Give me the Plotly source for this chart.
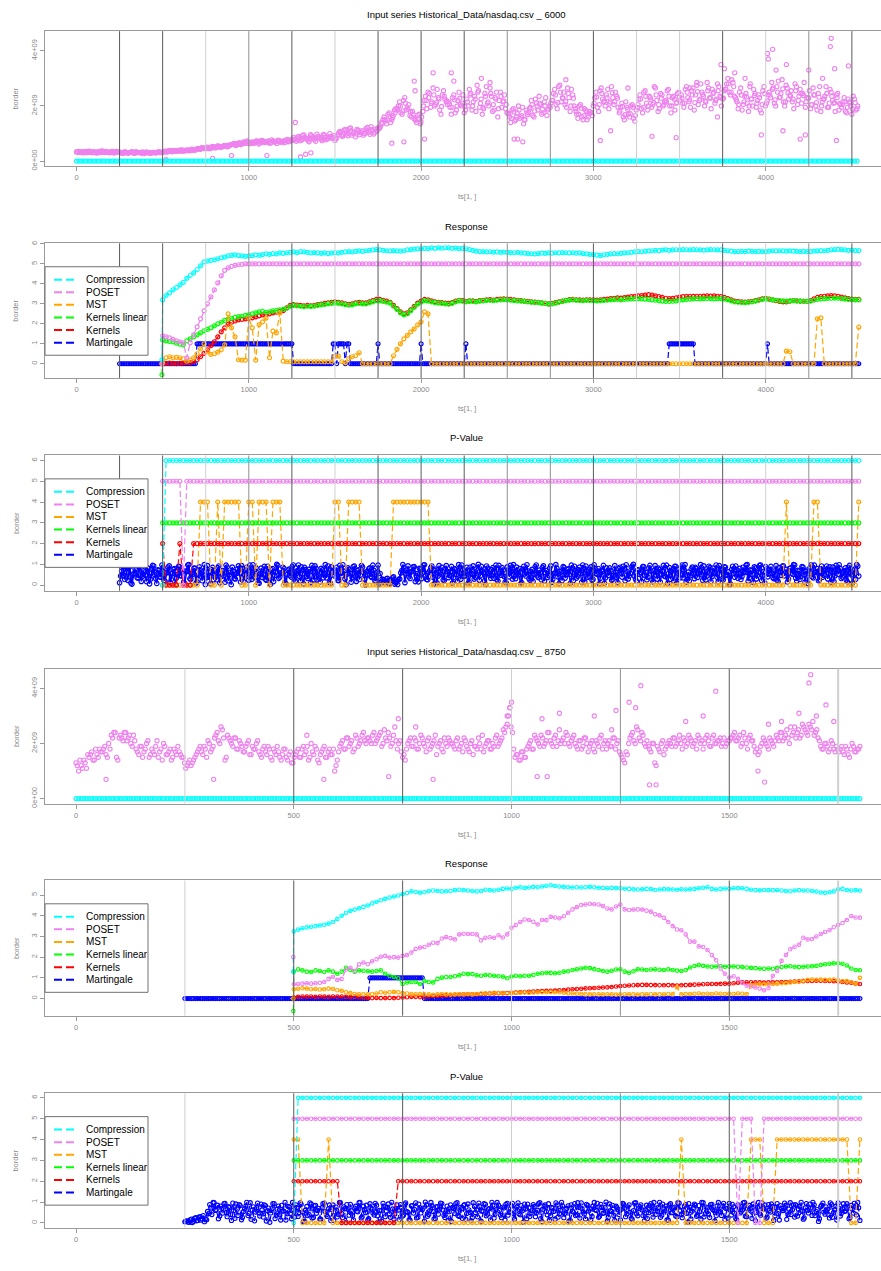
import plotly.graph_objects as go

# ======================= DATA =======================
def expand(parts):
    out = []
    for p in parts:
        if isinstance(p, tuple):
            out += [p[0]] * p[1]
        else:
            out += list(p)
    return out

# ---- Panel 1: input series nasdaq _ 6000 (volume in units of 1e7)
VOL1_UNIT = 1e7
VOL1_STEP = 15           # samples at t = 0, 15, 30, ...
vol_6000 = [
    33,35,31,34,30,36,32,33,29,34,37,31,33,30,35,32,34,
    31,28,33,30,32,29,34,31,30,27,33,31,29,32,30,34,31,
    35,33,37,34,38,36,40,37,39,41,38,42,40,
    46,43,48,45,50,47,52,49,54,51,56,53,58,
    60,64,58,66,62,68,73,
    63,70,67,72,66,74,69,71,65,73,70,76,68,72,75,70,78,
    85,72,90,76,95,80,70,92,78,98,84,74,94,80,100,86,75,
    95,108,90,115,92,120,100,88,112,103,94,118,104,125,98,110,
    118,140,160,135,175,150,185,
    185,215,170,230,195,165,180,
    150,165,135,
    180,235,250,195,265,205,230,170,255,215,
    215,170,240,185,250,200,175,
    225,260,185,235,275,195,170,245,210,265,180,230,160,250,215,190,
    175,140,190,150,200,160,135,185,
    175,220,160,210,235,170,215,165,200,
    220,260,190,275,230,205,265,180,240,
    190,155,205,150,185,160,175,
    200,250,180,265,215,240,190,270,205,235,
    175,210,150,195,160,205,145,
    195,240,175,255,185,230,205,265,180,245,200,220,260,175,235,210,250,
    240,195,270,215,255,185,275,220,250,200,285,230,260,210,280,235,225,
    260,300,240,285,
    230,190,265,205,245,180,225,260,195,240,175,270,210,
    250,285,210,270,230,295,200,265,240,215,280,205,260,245,195,
    230,190,265,200,245,180,225,270,195,250,210,240,185,
    195,230,175,215,170,225,190,
]
VOL1_MID_T0 = 8          # second set of samples at t = 8, 23, 38, ...
vol_6000_mid = [
    32,34,30,35,33,31,34,30,33,36,32,34,31,33,29,35,33,
    30,33,29,31,34,28,32,30,33,29,31,28,32,30,33,31,32,
    34,38,35,39,36,38,41,36,40,38,43,39,44,
    44,49,46,51,45,53,48,55,50,53,57,52,59,
    62,57,65,60,70,64,68,
    68,64,73,62,75,67,70,66,77,69,64,74,71,67,79,72,76,
    78,88,74,93,82,76,96,84,72,90,80,97,77,88,83,92,82,
    104,92,112,98,118,94,106,115,96,110,100,122,97,108,116,120,
    125,150,145,170,140,165,190,
    200,175,220,185,205,160,155,
    140,170,160,
    220,190,245,215,200,260,185,240,225,205,
    195,230,175,220,205,240,185,
    200,245,215,180,255,225,190,270,200,235,185,250,220,195,240,175,
    160,185,145,175,155,195,150,168,
    195,165,225,185,205,175,230,190,210,
    245,205,270,215,250,195,230,260,200,
    170,200,160,190,150,180,165,
    230,195,255,225,200,260,215,230,250,195,
    195,160,215,170,200,155,185,
    225,190,250,210,235,195,270,220,190,240,215,255,200,230,185,245,220,
    210,260,230,195,265,240,205,280,235,215,265,190,250,225,270,200,255,
    280,250,295,235,
    215,250,185,235,210,270,200,245,220,185,255,200,240,
    230,265,200,290,245,215,275,225,255,190,270,235,210,285,230,
    255,205,240,185,270,215,235,195,260,220,180,245,205,
    215,180,225,200,235,185,
]
VOL1_C_T0 = 4            # third set of samples at t = 4, 19, 34, ...
vol_6000_c = [
    34,32,33,31,35,33,30,32,34,31,33,35,32,34,31,33,32,
    30,32,31,29,33,30,31,32,29,31,30,32,31,30,32,31,33,
    36,34,38,35,37,39,36,40,38,40,39,41,42,
    45,47,46,49,48,50,51,50,53,52,55,54,57,
    61,63,60,65,64,66,70,
    66,68,70,69,71,72,70,73,68,72,71,74,70,73,74,72,76,
    80,78,84,81,86,82,79,86,83,88,85,80,87,84,89,85,82,
    98,103,96,106,100,110,102,98,107,104,100,112,106,115,103,108,
    120,135,150,148,162,158,175,
    190,200,182,210,188,178,170,
    148,155,142,
    200,220,230,210,240,212,225,198,235,218,
    208,195,222,200,228,210,198,
    215,240,200,225,250,210,195,235,215,245,205,225,190,235,218,205,
    170,155,178,160,185,165,150,175,
    190,205,182,200,210,188,200,185,195,
    220,240,212,250,228,215,245,200,228,
    180,170,192,165,180,172,176,
    210,232,205,245,218,230,210,248,215,228,
    182,198,168,188,172,195,165,
    205,225,195,235,200,222,212,240,205,228,205,215,235,200,225,212,232,
    228,210,250,222,240,212,252,225,242,218,255,228,245,220,255,230,228,
    262,280,250,270,
    222,205,240,215,232,200,225,238,210,230,205,245,218,
    240,260,222,250,232,262,215,248,235,225,255,220,245,238,215,
    228,205,240,212,232,200,225,245,210,235,212,230,208,
    205,215,195,210,188,212,200,
]
vol_6000_out_t = [1270,1960,1965,2070,2175,2190,2350,2400,2540,2560,2590,2840,3040,3200,3340,3480,
                  3560,3600,3740,3760,3820,3880,3910,4010,4015,4040,4060,4120,4200,4230,4380,4375,
                  4400,4250,4330,4410,4480,900,1105,1330,1360,1900,2020,1830,1300,520,790,3100,3720,3975,4100]
vol_6000_out_v = [140,290,255,320,320,290,300,285,80,80,70,295,75,265,90,85,
                  265,285,350,335,320,300,280,390,370,405,330,350,80,95,445,415,
                  335,330,300,75,345,20,20,25,30,70,80,65,15,5,10,110,160,95,110]
resp_6000_in = expand([(0.0, len(vol_6000))])

# ---- Panel 2: Response (grid 500 + 20*i, preceded by the value at t=496)
R1_T0, R1_START, R1_STEP = 496, 500, 20
comp_resp1 = [0.2,
    3.2,3.42,3.55,3.7,3.82,3.95,4.08,4.28,4.42,4.55,
    4.72,4.9,5.1,5.14,5.18,5.2,5.26,5.3,5.34,5.4,
    5.43,5.45,5.42,5.4,5.38,5.4,5.42,5.45,5.43,5.47,
    5.5,5.48,5.52,5.5,5.55,5.53,5.56,5.58,5.6,5.57,
    5.62,5.6,5.58,5.55,5.57,5.55,5.53,5.55,5.52,5.54,
    5.56,5.55,5.58,5.6,5.62,5.6,5.63,5.65,5.63,5.66,
    5.68,5.7,5.72,5.7,5.68,5.66,5.65,5.67,5.65,5.64,
    5.66,5.7,5.72,5.74,5.75,5.76,5.78,5.77,5.8,5.78,
    5.8,5.79,5.81,5.8,5.78,5.79,5.77,5.78,5.76,5.72,
    5.68,5.64,5.62,5.62,5.6,5.61,5.59,5.6,5.58,5.59,
    5.58,5.57,5.56,5.58,5.55,5.54,5.52,5.51,5.5,5.52,
    5.54,5.53,5.55,5.54,5.56,5.55,5.57,5.56,5.55,5.56,
    5.54,5.55,5.52,5.5,5.48,5.47,5.44,5.42,5.46,5.48,
    5.5,5.52,5.51,5.53,5.55,5.56,5.58,5.6,5.62,5.61,
    5.63,5.65,5.66,5.68,5.67,5.69,5.7,5.68,5.7,5.71,
    5.7,5.72,5.71,5.7,5.72,5.71,5.7,5.69,5.7,5.72,
    5.71,5.7,5.7,5.68,5.66,5.64,5.62,5.62,5.63,5.62,
    5.64,5.63,5.62,5.63,5.62,5.62,5.64,5.66,5.65,5.66,
    5.65,5.64,5.65,5.64,5.63,5.62,5.63,5.62,5.62,5.64,
    5.65,5.67,5.66,5.68,5.7,5.72,5.73,5.72,5.7,5.68,
    5.69,5.67,5.67]
poset_resp1 = expand([[0.0,
    1.4,1.35,1.3,1.22,1.15,1.1,1.05,0.3,1.05,1.45,
    1.85,2.25,2.65,3.0,3.35,3.7,4.05,4.4,4.68,4.8,
    4.88,4.93,4.96,4.98], (5.0, 179)])
mst_resp1 = expand([[0.0],
    [0.05,0.3,0.35,0.3,0.32,0.3,0.25,0.13,0.18,0.3,
     0.5,0.75,1.0,0.6,0.47,0.5,0.58,0.7,0.95,2.5,
     1.8,1.35,0.2,0.18,0.18,2.3,1.8,0.18,1.96,2.1,
     2.28,0.3,1.63,1.55,2.54,0.13,0.1],
    (0.1, 13),
    [0.38,0.38,0.1,0.05,0.25,0.35,0.4,0.55],
    (0.0, 9),
    [0.4,0.72,1.0,1.25,1.42,1.6,1.75,1.95,2.1,2.6,2.5],
    (0.0, 103), [0.63,0.6], (0.0, 7), [2.25,2.3], (0.0, 10), [1.83]])
klin_resp1 = [-0.55,
    1.2,1.15,1.12,1.1,1.03,0.98,0.95,1.15,1.25,1.35,
    1.45,1.55,1.65,1.72,1.8,1.9,2.0,2.08,2.17,2.24,
    2.28,2.32,2.36,2.38,2.42,2.45,2.5,2.55,2.6,2.63,
    2.58,2.6,2.65,2.68,2.7,2.72,2.78,2.88,2.92,2.9,
    2.88,2.86,2.88,2.87,2.89,2.92,2.95,2.97,3.0,3.02,
    3.04,3.02,3.0,2.96,2.93,2.95,3.0,3.02,3.0,3.0,
    3.05,3.1,3.16,3.15,3.12,3.08,3.04,2.88,2.72,2.55,
    2.45,2.5,2.65,2.82,2.98,3.08,3.16,3.14,3.1,3.06,
    3.04,3.02,3.0,2.98,3.02,3.1,3.15,3.13,3.1,3.12,
    3.12,3.1,3.14,3.15,3.17,3.18,3.16,3.18,3.2,3.21,
    3.2,3.18,3.16,3.15,3.14,3.12,3.1,3.08,3.07,3.06,
    3.04,3.02,2.99,3.0,3.04,3.08,3.12,3.16,3.19,3.2,
    3.18,3.17,3.16,3.18,3.17,3.16,3.15,3.16,3.17,3.18,
    3.2,3.21,3.22,3.2,3.22,3.24,3.25,3.26,3.26,3.25,
    3.24,3.22,3.2,3.18,3.16,3.14,3.12,3.12,3.13,3.15,
    3.18,3.2,3.22,3.24,3.25,3.26,3.25,3.26,3.27,3.26,
    3.25,3.26,3.26,3.24,3.2,3.15,3.1,3.08,3.07,3.06,
    3.08,3.1,3.14,3.18,3.22,3.24,3.22,3.2,3.18,3.16,
    3.15,3.14,3.15,3.16,3.15,3.14,3.13,3.12,3.14,3.18,
    3.22,3.25,3.26,3.27,3.28,3.29,3.28,3.26,3.24,3.22,
    3.21,3.2,3.2]
kern_resp1 = [0.0,
    0.0,0.02,0.03,0.02,0.0,0.02,0.04,0.05,0.06,0.1,
    0.2,0.35,0.52,0.7,0.9,1.1,1.35,1.6,1.8,1.98,
    2.08,2.14,2.2,2.22,2.25,2.27,2.3,2.35,2.4,2.45,
    2.46,2.5,2.55,2.58,2.62,2.66,2.8,2.92,2.96,2.94,
    2.92,2.9,2.92,2.9,2.93,2.96,2.99,3.02,3.05,3.08,
    3.1,3.08,3.05,3.0,2.98,3.0,3.05,3.07,3.05,3.05,
    3.1,3.16,3.22,3.22,3.18,3.14,3.08,2.92,2.76,2.6,
    2.5,2.55,2.7,2.88,3.04,3.14,3.22,3.2,3.15,3.1,
    3.08,3.06,3.04,3.02,3.06,3.14,3.18,3.16,3.13,3.15,
    3.15,3.12,3.16,3.18,3.2,3.21,3.19,3.22,3.24,3.25,
    3.24,3.22,3.2,3.18,3.16,3.14,3.12,3.1,3.09,3.08,
    3.05,3.02,3.0,3.02,3.06,3.1,3.14,3.18,3.21,3.22,
    3.2,3.2,3.19,3.2,3.2,3.2,3.19,3.2,3.22,3.24,
    3.26,3.28,3.3,3.29,3.31,3.34,3.36,3.38,3.4,3.42,
    3.44,3.46,3.44,3.4,3.36,3.32,3.28,3.26,3.27,3.3,
    3.34,3.36,3.38,3.38,3.37,3.38,3.38,3.39,3.4,3.39,
    3.4,3.38,3.36,3.32,3.26,3.2,3.14,3.11,3.1,3.09,
    3.1,3.12,3.16,3.2,3.25,3.28,3.24,3.2,3.16,3.12,
    3.1,3.1,3.14,3.16,3.15,3.14,3.13,3.12,3.16,3.25,
    3.32,3.36,3.38,3.4,3.41,3.4,3.38,3.34,3.3,3.26,
    3.24,3.22,3.22]
M1_START, M1_STEP = 250, 10
mart_resp1 = expand([(0,45),(1,56),(0,23),(1,2),(0,1),(1,4),(0,1),(1,2),(0,16),(1,1),(0,24),
                     (1,1),(0,25),(1,1),(0,117),(1,15),(0,42),(1,1),(0,53)])

# ---- Panel 3: P-Value (grid 500 + 20*i)
P1_START, P1_STEP = 500, 20
comp_pv1 = expand([(0,1),(6,202)])
poset_pv1 = expand([(5,6),(0,1),(5,196)])
mst_pv1 = expand([(0,11),(4,3),(0,2),(4,1),(0,1),(4,5),(0,2),(4,2),(0,1),(4,3),(0,1),(4,3),(0,15),
                  (4,2),(0,2),(4,4),(0,9),(4,11),(0,103),(4,1),(0,7),(4,2),(0,11),(4,1)])
klin_pv1 = expand([(3,203)])
kern_pv1 = expand([(2,1),(0,4),(2,1),(0,3),(2,194)])
MP1_START, MP1_STEP = 250, 12
mart_pv1_pct = [
    12,67,45,88,23,91,5,56,73,34,98,41,62,17,80,29,95,50,8,71,
    38,84,19,60,93,27,76,3,52,89,44,15,68,97,31,58,82,10,47,74,
    21,99,36,63,7,85,54,26,92,40,70,14,87,49,2,65,30,78,57,94,
    18,72,43,96,28,61,83,11,55,37,90,24,66,4,79,46,100,33,59,86,
    13,51,77,39,97,20,69,42,88,6,75,32,64,95,25,81,48,16,73,58,
    35,92,9,67,44,85,22,60,98,30,53,76,14,89,41,70,27,94,62,1,
    50,83,37,71,19,96,56,29,12,30,8,22,35,5,18,28,59,99,12,74,
    40,63,88,17,55,81,31,97,48,26,69,92,5,77,43,60,85,21,94,36,
    64,10,79,52,99,28,73,46,86,15,57,93,38,68,24,90,61,3,82,47,
    75,33,96,20,58,84,42,11,70,95,29,63,87,49,7,76,54,98,31,66,
    18,89,45,72,26,93,60,37,81,13,56,99,40,67,22,85,50,78,9,62,
    91,34,74,55,97,16,68,43,88,27,80,52,6,71,95,35,59,83,24,47,
    63,12,86,39,77,98,30,57,92,44,19,73,61,89,48,26,82,67,15,94,
    29,76,53,95,41,8,84,66,20,90,58,35,97,72,14,63,46,87,31,79,
    55,99,23,68,44,91,17,82,60,38,94,71,26,86,49,3,75,57,92,33,
    81,42,65,96,19,73,52,88,30,61,97,45,11,78,54,90,36,69,24,84,
    47,93,62,15,80,58,99,34,71,27,89,50,66,7,85,40,96,64,21,77,
    38,70,92,56,13,87,45,74,98,32,60,83,16,95,49,68,28,91]
MP1B_START = 256         # interleaved samples at t = 256, 268, ...
mart_pv1_pct_b = [
    44,91,27,63,85,10,52,77,36,95,18,69,48,83,6,58,92,31,74,40,
    97,22,61,86,13,55,79,34,90,47,71,8,65,99,29,53,81,16,88,42,
    67,3,94,38,75,26,59,84,11,70,45,96,21,62,87,33,56,93,15,79,
    49,86,24,68,98,37,60,9,82,51,28,91,43,73,17,64,95,39,57,80,
    6,72,46,89,30,66,97,19,54,85,41,76,12,63,93,25,58,81,35,99,
    60,14,88,50,71,23,95,44,67,2,83,57,36,92,18,74,48,87,29,65,
    78,41,96,20,61,5,15,25,10,33,6,20,40,12,3,30,70,85,54,93,
    32,68,89,45,16,77,58,98,27,62,84,39,71,11,94,52,25,80,66,47,
    90,35,73,18,59,97,42,64,8,86,53,29,78,100,45,69,21,92,57,33,
    84,61,26,95,48,72,15,88,40,66,99,31,56,79,12,91,44,68,23,76,
    53,97,37,62,85,19,70,46,93,28,58,81,7,64,89,34,75,51,96,22,
    69,43,87,14,60,92,38,77,24,98,55,80,33,67,9,83,47,71,28,94,
    36,79,58,91,21,65,44,86,100,30,73,52,17,89,61,39,95,26,70,48,
    82,15,67,43,96,57,28,74,90,11,63,87,35,99,46,20,78,54,85,37,
    72,50,93,25,68,84,41,59,97,16,77,32,88,48,64,5,91,38,73,56,
    27,86,61,99,34,70,13,82,47,95,22,66,89,40,75,58,31,94,18,63,
    90,45,76,29,83,53,97,20,67,41,87,14,72,56,98,35,61,79,26,92,
    48,74,30,88,63,17,95,52,81,39,69,24,86,57,10,77,99,44]

# ---- Panel 4: input series nasdaq _ 8750 (units of 1e8)
VOL2_UNIT = 1e8
VOL2_STEP = 6            # samples at t = 0, 6, 12, ...
vol_8750 = [
    13,10,12,14,11, 15,17,14,16,18, 17,19,15,18, 22,24,14, 23,21,24,22,20,23,
    18,16,19,17,20,15,18,16,21,17,14,19,16,18,15,17,19,16,15,
    11,13,12,14, 16,18,17,19,15,20,18, 22,24,20,25,14,23,
    21,19,22,18,20,17,19,21,16,18,20,17,15,19,16,18,14,17,19,15,16,18,14,17,13,
    16,18,15,19,17,14,20,16,18,13,17,19,15,18,16, 10,14,
    19,21,18,22,20,17,23,19,21,24,20,
    22,20,24,21,23,19,25,21,22,20,26,18,21, 15,14,
    20,22,19,21,18,23,20,17,22,19,21,16,20,18,22,19,21,
    20,18,22,19,17,21,18,20,16,19,22,18,17,20,21,18,19,23,20,22,24,
    27,33,24, 15,16,14,17,15,
    19,21,18,22,20,23,19,21,24,20,22,19,25,21,20,23,19,22,
    20,18,21,19,22,17,20,18,21,19,23,20,18,21,19,22,20,17,
    15,13,16, 22,24,20,25,21,23,19, 19,17,20,12,18,20,16,19,
    21,19,22,20,23,18,21,20,22,19,21,23,20,18,22,21,19,23,20,21,19,22,20,21,
    22,24,21,23,20,22,18,23,21,17,16,19,22,20,18,21,19,
    23,21,24,22,25,20,23,26,24,22,27,25,23,26,28,24,22,
    19,18,20,17,21,18,19, 17,19,16,18,15,20,17,18,19]
VOL2_MID_T0 = 3          # second set of samples at t = 3, 9, 15, ...
vol_8750_mid = [
    12,14,11,13,16, 16,14,18,15,17, 18,16,20,23, 24,15,22, 22,24,21,23,19,21,
    17,19,15,18,21,16,17,19,15,18,20,16,17,14,18,16,17,15,13,
    12,14,13,15, 17,19,16,18,21,17,19, 23,21,26,22,15,22,
    20,22,18,21,19,17,20,16,19,18,21,16,18,17,19,15,18,16,17,14,18,15,16,13,15,
    17,15,18,16,19,15,17,19,14,16,18,15,17,16,18, 12,17,
    20,18,22,19,21,18,22,20,23,21,22,
    21,23,20,22,24,20,22,24,19,23,21,20,17, 16,18,
    21,19,22,18,20,22,19,21,18,20,23,19,21,17,20,22,20,
    19,21,18,20,22,19,17,21,19,18,20,23,19,21,18,20,22,19,21,25,26,
    30,26,18, 16,14,17,15,18,
    20,18,23,21,19,22,20,24,21,19,23,21,20,22,24,20,21,23,
    19,21,18,22,20,19,21,17,20,22,18,21,20,19,22,18,21,16,
    14,17,20, 23,21,26,22,24,20,21, 18,20,13,19,17,21,18,20,
    20,22,19,21,20,22,19,23,21,20,18,22,21,20,23,19,22,20,21,22,20,19,21,22,
    23,21,22,19,24,20,22,21,19,18,17,20,21,19,22,20,21,
    22,24,21,23,22,26,24,22,25,23,26,24,27,25,23,25,21,
    18,20,19,18,20,17,18, 18,17,19,16,18,19,17,18]
vol_8750_out_t = [69,316,569,718,820,1059,1082,1317,1332,1566,1581,1297,1469,1687,1683,1722,1000,996,
                  990,1270,1110,1285,1590,1700,740,780,530,1240,1230,1400,1440,1660,1620,1740,1070,1190]
vol_8750_out_v = [7,7,7,8,7,8,8,5,5,10,6,41,39,45,42,34,35,33,
                  30,35,31,33,27,30,29,26,23,32,25,28,30,31,28,28,29,30]
resp_8750_in = expand([(0.0, len(vol_8750))])

# ---- Panel 5: Response (grid 500 + 10*i, preceded by the value at t=499)
R2_T0, R2_START, R2_STEP = 499, 500, 10
comp_resp2 = [1.3,
    3.25,3.33,3.4,3.44,3.47,3.5,3.53,3.57,3.62,3.7,
    3.85,4.0,4.15,4.24,4.3,4.36,4.43,4.5,4.6,4.68,
    4.75,4.82,4.88,4.93,4.98,5.05,5.1,5.18,5.15,5.12,
    5.14,5.2,5.22,5.2,5.18,5.19,5.2,5.24,5.26,5.24,
    5.22,5.2,5.18,5.2,5.26,5.24,5.22,5.26,5.3,5.32,
    5.3,5.36,5.38,5.35,5.37,5.4,5.38,5.42,5.45,5.48,
    5.44,5.42,5.4,5.38,5.37,5.38,5.37,5.38,5.4,5.38,
    5.36,5.35,5.33,5.35,5.34,5.33,5.31,5.3,5.28,5.27,
    5.28,5.3,5.29,5.25,5.27,5.29,5.28,5.27,5.26,5.28,
    5.27,5.28,5.3,5.33,5.36,5.38,5.3,5.27,5.3,5.32,
    5.31,5.33,5.34,5.33,5.3,5.26,5.24,5.23,5.25,5.24,
    5.24,5.25,5.22,5.2,5.19,5.22,5.24,5.22,5.22,5.2,
    5.17,5.13,5.11,5.14,5.18,5.28,5.3,5.25,5.22,5.24,
    5.22]
poset_resp2 = [2.0,
    0.69,0.7,0.72,0.74,0.72,0.74,0.76,0.8,0.95,1.05,
    0.9,0.95,1.4,1.49,1.33,1.65,1.74,1.66,1.8,1.9,
    2.02,2.06,1.98,2.0,1.98,2.06,2.1,2.22,2.4,2.46,
    2.49,2.6,2.7,2.68,2.9,2.97,2.92,2.86,3.1,3.13,
    3.12,3.12,3.1,2.81,2.94,2.96,2.94,3.06,2.95,3.1,
    3.42,3.55,3.7,3.82,3.8,3.71,3.58,3.8,3.79,3.95,
    3.92,3.88,3.98,4.15,4.31,4.42,4.52,4.55,4.58,4.56,
    4.55,4.47,4.35,4.31,4.45,4.55,4.31,4.28,4.3,4.31,
    4.3,4.25,4.2,4.07,4.02,3.9,3.7,3.5,3.34,3.3,
    3.1,2.75,2.75,2.52,2.49,2.35,2.1,1.85,1.45,1.2,
    1.02,1.08,0.95,0.75,0.62,0.58,0.53,0.48,0.4,0.5,
    1.1,1.33,1.82,2.1,2.38,2.5,2.6,2.94,2.86,2.88,
    3.0,3.12,3.22,3.3,3.45,3.56,3.65,3.8,3.99,3.92,
    3.91]
mst_resp2 = [0.0,
    0.45,0.47,0.5,0.48,0.45,0.46,0.44,0.45,0.48,0.46,0.4,
    0.37,0.3,0.26,0.22,0.2,0.2,0.21,0.22,0.24,0.3,
    0.28,0.3,0.32,0.3,0.26,0.24,0.22,0.2,0.22,0.2,
    0.2,0.18,0.2,0.22,0.2,0.19,0.2,0.21,0.2,0.22,
    0.2,0.22,0.24,0.25,0.24,0.28,0.26,0.25,0.24,0.26,
    0.27,0.28,0.3,0.28,0.29,0.3,0.31,0.3,0.32,0.3,
    0.3,0.28,0.25,0.24,0.23,0.22,0.2,0.2,0.21,0.2,
    0.2,0.21,0.2,0.19,0.2,0.21,0.2,0.2,0.19,0.2,
    0.2,0.21,0.2,0.2,0.21,0.22,0.2,0.55,0.2,0.22,
    0.22,0.23,0.24,0.22,0.23,0.22,0.24,0.23,0.22,0.23,
    0.22,0.24,0.23,0.22,0.65,0.68,0.7,0.7,0.69,0.7,
    0.72,0.74,0.75,0.78,0.8,0.82,0.86,0.9,0.92,0.91,
    0.92,0.9,0.91,0.92,0.88,0.85,0.84,0.8,0.7,1.0]
klin_resp2 = [-0.6,
    1.3,1.41,1.36,1.3,1.28,1.36,1.33,1.28,1.36,1.3,
    1.2,1.3,1.49,1.38,1.3,1.36,1.34,1.32,1.3,1.33,
    1.36,1.2,1.1,1.04,0.98,0.7,0.78,0.8,0.8,0.7,
    0.85,0.8,0.78,0.95,1.01,1.04,1.04,1.08,1.12,1.2,
    1.18,1.18,1.12,1.1,1.14,1.12,1.1,1.08,1.06,0.98,
    1.06,1.1,1.08,1.1,1.1,1.14,1.2,1.22,1.25,1.24,
    1.22,1.25,1.3,1.32,1.38,1.41,1.45,1.49,1.47,1.42,
    1.38,1.33,1.3,1.34,1.4,1.41,1.3,1.25,1.32,1.41,
    1.4,1.38,1.4,1.41,1.39,1.38,1.41,1.38,1.35,1.33,
    1.38,1.5,1.57,1.62,1.58,1.55,1.54,1.55,1.56,1.54,
    1.55,1.55,1.54,1.52,1.5,1.48,1.47,1.45,1.44,1.45,
    1.44,1.48,1.52,1.55,1.56,1.54,1.52,1.54,1.55,1.56,
    1.58,1.62,1.66,1.68,1.7,1.7,1.68,1.6,1.45,1.38,
    1.37]
kern_resp2 = [0.0,
    0.05,0.08,0.1,0.09,0.1,0.08,0.1,0.09,0.08,0.1,0.09,0.1,0.08,0.07,0.09,0.05,0.04,0.03,0.02,0.03,0.02,
    0.02,0.03,0.02,0.04,0.05,0.06,0.08,0.08,0.07,0.08,
    0.1,0.12,0.12,0.13,0.15,0.16,0.18,0.19,0.2,0.2,
    0.2,0.21,0.22,0.23,0.24,0.25,0.26,0.26,0.27,0.28,
    0.29,0.3,0.31,0.33,0.34,0.35,0.36,0.37,0.37,0.38,
    0.4,0.41,0.43,0.45,0.46,0.47,0.49,0.5,0.51,0.52,
    0.53,0.54,0.56,0.58,0.6,0.62,0.63,0.64,0.65,0.66,
    0.66,0.65,0.65,0.64,0.64,0.65,0.64,0.63,0.64,0.65,
    0.66,0.67,0.68,0.69,0.7,0.7,0.7,0.71,0.72,0.72,
    0.74,0.76,0.78,0.78,0.79,0.78,0.78,0.77,0.78,0.79,
    0.79,0.8,0.8,0.81,0.82,0.83,0.84,0.85,0.85,0.86,
    0.86,0.85,0.85,0.84,0.82,0.8,0.78,0.76,0.72,0.7]
M2_START, M2_STEP = 250, 5
mart_resp2 = expand([(0,85),(1,25),(0,201)])

# ---- Panel 6: P-Value (grid 500 + 10*i)
P2_START, P2_STEP = 500, 10
comp_pv2 = expand([(0,1),(6,130)])
poset_pv2 = expand([(5,102),(0,1),(5,3),(0,2),(5,23)])
mst_pv2 = expand([(4,2),(0,6),(4,1),(0,80),(4,1),(0,15),(4,3),(0,3),(4,17),(0,2),(4,1)])
klin_pv2 = expand([(3,131)])
kern_pv2 = expand([(2,11),(0,13),(2,107)])
MP2_START, MP2_STEP = 250, 5
mart_pv2_pct = [
    5,10,3,18,8,25,12,30,20,6,15,45,72,98,60,85,33,70,92,50,
    78,40,95,22,66,88,15,55,80,35,97,62,10,74,48,90,28,83,58,3,
    69,93,37,81,14,57,99,44,76,20,63,87,31,96,52,7,79,41,91,26,
    84,60,18,73,95,39,68,11,86,53,29,98,46,77,2,64,89,35,71,56,
    97,24,80,49,13,92,67,38,85,5,58,94,30,75,43,99,19,70,61,88,
    33,90,54,16,82,47,96,27,72,63,9,86,40,98,55,21,78,66,93,36,
    59,12,87,74,45,97,31,68,83,17,91,50,26,79,62,95,8,56,89,42,
    70,99,23,64,85,37,76,14,94,51,81,28,67,96,39,58,90,20,73,47,
    88,30,61,97,6,79,54,92,35,71,18,86,44,99,25,65,82,11,57,93,
    40,75,96,52,19,84,68,31,98,60,27,89,46,73,8,91,55,36,80,64,
    15,94,70,43,87,22,59,97,34,78,62,10,85,49,93,28,71,56,99,37,
    66,81,13,92,50,76,29,95,41,63,88,4,74,57,90,32,83,18,97,45,
    72,26,89,60,35,98,53,80,16,69,94,38,77,21,86,48,62,99,30,84,
    57,91,11,75,44,96,67,23,88,52,79,34,93,14,70,59,85,40,97,63,
    28,82,49,99,18,73,61,90,36,87,54,7,78,95,42,66,24,89,51,80,
    96,33,68,55,92,20,84,47,76,98,12]
MP2B_START = 252         # interleaved samples at t = 252, 257, ...
mart_pv2_pct_b = [
    8,4,15,2,22,10,28,14,35,18,55,88,40,97,63,20,81,47,94,30,
    74,12,59,91,36,83,26,68,99,45,17,77,52,95,33,62,87,9,71,48,
    93,21,66,39,84,57,14,79,44,98,28,73,50,89,6,61,35,96,23,82,
    46,70,18,92,55,31,86,64,11,76,41,97,25,68,88,37,58,15,80,53,
    99,29,63,85,20,72,47,94,34,60,8,79,56,91,27,67,43,87,16,75,
    38,96,51,13,83,65,24,90,48,71,100,32,59,84,19,77,42,95,62,26,
    81,54,7,69,93,36,74,22,88,45,63,11,97,50,29,78,57,92,34,66,
    15,85,41,98,60,25,71,89,37,53,94,18,76,44,83,3,67,90,31,58,
    79,47,92,20,65,86,39,13,74,55,96,28,61,82,45,70,9,87,52,35,
    97,23,68,43,89,57,16,80,63,94,32,75,48,100,26,59,84,12,73,40,
    66,91,30,77,52,18,95,44,69,87,35,62,21,83,56,98,41,74,27,90,
    58,14,86,49,72,33,97,61,25,80,46,93,19,68,85,38,54,99,29,76,
    43,88,64,10,81,57,36,94,70,23,62,89,47,15,78,53,96,32,67,84,
    22,75,51,98,37,69,86,28,60,91,12,74,45,83,59,95,17,66,40,87,
    88,33,79,56,24,93,48,71,99,35,64,20,85,52,77,41,96,27,62,14,
    70,45,92,58,81,26,67,94,38,73]

# ---- text
TITLES = ["Input series Historical_Data/nasdaq.csv _ 6000", "Response", "P-Value",
          "Input series Historical_Data/nasdaq.csv _ 8750", "Response", "P-Value"]
LEG_NAMES = ["Compression", "POSET", "MST", "Kernels linear", "Kernels", "Martingale"]
X_TICKS_A = [0, 1000, 2000, 3000, 4000]
X_TICKS_B = [0, 500, 1000, 1500]
VOL_TICKS = [0, 2e9, 4e9]
VOL_TICK_TEXT = ["0e+00", "2e+09", "4e+09"]

# ======================= STYLE / LAYOUT =======================
W, H = 881, 1271
FONT = "Liberation Sans, Arial, Helvetica, sans-serif"
C_COMP, C_POSET, C_MST, C_KLIN, C_KERN, C_MART = "#00FFFF", "#EE82EE", "#FFA500", "#00FF00", "#FF0000", "#0000FF"
LEG_COLORS = [C_COMP, C_POSET, C_MST, C_KLIN, C_KERN, C_MART]
FRAME_C, TICK_C, LABEL_C = "#9a9a9a", "#9a9a9a", "#8a8a8a"
SHADE = {"D": "#5a5a5a", "M": "#909090", "L": "#cfcfcf"}

FRAMES = [(28.3, 164.0), (241.7, 377.0), (455.0, 591.0), (669.3, 805.0), (882.3, 1018.3), (1096.3, 1231.7)]
XR = [(-182.8, 4669)] * 3 + [(-71.2, 1848.4)] * 3
YR = [(-0.18e9, 4.71e9), (-0.71, 6.03), (-0.27, 6.24), (-0.18e9, 4.72e9), (-0.83, 5.71), (-0.24, 6.22)]
TITLE_Y = [11.5, 224.7, 437.3, 652.3, 865.7, 1079.0]
VL_A = list(range(250, 4501, 250))
VL_A_SH = ['D','D','L','M','D','L','D','D','D','M','M','D','L','L','D','L','M','D']
VL_B = list(range(250, 1751, 250))
VL_B_SH = ['L','D','D','L','M','D','L']

AX = ['', '2', '3', '4', '5', '6']
fig = go.Figure()

def grid(start, step, n):
    return [start + step * i for i in range(n)]

def add(panel, t, v, color, mode='lines+markers', size=4, lw=1.2, scale=1.0, dash='6px,3px', width=1.2):
    s = AX[panel - 1]
    fig.add_trace(go.Scatter(
        x=t, y=[vv * scale for vv in v], xaxis='x' + s, yaxis='y' + s, mode=mode,
        line=dict(color=color, width=width, dash=dash),
        marker=dict(symbol='circle-open', size=size, color=color, line=dict(color=color, width=lw)),
        hoverinfo='skip', showlegend=False))

# Panel 1
t = grid(0, VOL1_STEP, len(vol_6000))
for t0, vals in ((0, vol_6000), (VOL1_MID_T0, vol_6000_mid), (VOL1_C_T0, vol_6000_c)):
    add(1, grid(t0, VOL1_STEP, len(vals)), vals, C_POSET, mode='markers', size=4.2, lw=1.1, scale=VOL1_UNIT)
add(1, vol_6000_out_t, vol_6000_out_v, C_POSET, mode='markers', size=4.2, lw=1.1, scale=VOL1_UNIT)
add(1, t, resp_6000_in, C_COMP, mode='markers', size=4, lw=1.2)

# Panel 2
def rgrid1(v):
    return [R1_T0] + grid(R1_START, R1_STEP, len(v) - 1)
add(2, grid(M1_START, M1_STEP, len(mart_resp1)), mart_resp1, C_MART)
add(2, rgrid1(kern_resp1), kern_resp1, C_KERN)
add(2, rgrid1(klin_resp1), klin_resp1, C_KLIN)
add(2, rgrid1(mst_resp1), mst_resp1, C_MST)
add(2, rgrid1(poset_resp1), poset_resp1, C_POSET)
add(2, rgrid1(comp_resp1), comp_resp1, C_COMP)

# Panel 3
add(3, grid(MP1_START, MP1_STEP, len(mart_pv1_pct)), mart_pv1_pct, C_MART, size=4.5, lw=1.2,
    scale=0.01, dash='solid', width=1.4)
add(3, grid(MP1B_START, MP1_STEP, len(mart_pv1_pct_b)), mart_pv1_pct_b, C_MART, size=4.5, lw=1.2,
    scale=0.01, dash='solid', width=1.4)
add(3, grid(P1_START, P1_STEP, len(mst_pv1)), mst_pv1, C_MST)
add(3, grid(P1_START, P1_STEP, len(kern_pv1)), kern_pv1, C_KERN)
add(3, grid(P1_START, P1_STEP, len(klin_pv1)), klin_pv1, C_KLIN)
add(3, grid(P1_START, P1_STEP, len(poset_pv1)), poset_pv1, C_POSET)
add(3, grid(P1_START, P1_STEP, len(comp_pv1)), comp_pv1, C_COMP)

# Panel 4
t = grid(0, VOL2_STEP, len(vol_8750))
add(4, t, vol_8750, C_POSET, mode='markers', size=4.2, lw=1.1, scale=VOL2_UNIT)
add(4, grid(VOL2_MID_T0, VOL2_STEP, len(vol_8750_mid)), vol_8750_mid, C_POSET, mode='markers', size=4.2, lw=1.1, scale=VOL2_UNIT)
add(4, vol_8750_out_t, vol_8750_out_v, C_POSET, mode='markers', size=4.2, lw=1.1, scale=VOL2_UNIT)
add(4, t, resp_8750_in, C_COMP, mode='markers', size=4, lw=1.2)

# Panel 5
def rgrid2(v):
    return [R2_T0] + grid(R2_START, R2_STEP, len(v) - 1)
add(5, grid(M2_START, M2_STEP, len(mart_resp2)), mart_resp2, C_MART)
add(5, rgrid2(kern_resp2), kern_resp2, C_KERN, size=3.5, lw=1.1)
add(5, rgrid2(klin_resp2), klin_resp2, C_KLIN, size=3.5, lw=1.1)
add(5, rgrid2(mst_resp2), mst_resp2, C_MST, size=3.5, lw=1.1)
add(5, rgrid2(poset_resp2), poset_resp2, C_POSET, size=3.5, lw=1.1)
add(5, rgrid2(comp_resp2), comp_resp2, C_COMP, size=3.5, lw=1.1)

# Panel 6
add(6, grid(MP2_START, MP2_STEP, len(mart_pv2_pct)), mart_pv2_pct, C_MART, size=4.2, lw=1.1,
    scale=0.01, width=1.2)
add(6, grid(MP2B_START, MP2_STEP, len(mart_pv2_pct_b)), mart_pv2_pct_b, C_MART, size=4.2, lw=1.1,
    scale=0.01, width=1.2)
add(6, grid(P2_START, P2_STEP, len(mst_pv2)), mst_pv2, C_MST, size=3.5, lw=1.1)
add(6, grid(P2_START, P2_STEP, len(kern_pv2)), kern_pv2, C_KERN, size=3.5, lw=1.1)
add(6, grid(P2_START, P2_STEP, len(klin_pv2)), klin_pv2, C_KLIN, size=3.5, lw=1.1)
add(6, grid(P2_START, P2_STEP, len(poset_pv2)), poset_pv2, C_POSET, size=3.5, lw=1.1)
add(6, grid(P2_START, P2_STEP, len(comp_pv2)), comp_pv2, C_COMP, size=3.5, lw=1.1)

layout = dict(width=W, height=H, margin=dict(l=0, r=0, t=0, b=0, pad=0),
              paper_bgcolor='white', plot_bgcolor='white', showlegend=False,
              font=dict(family=FONT))
shapes, annots = [], []
small = dict(family=FONT, size=7.5, color=LABEL_C)
for k in range(6):
    s = AX[k]
    top, bot = FRAMES[k]
    xt = X_TICKS_A if k < 3 else X_TICKS_B
    if k in (0, 3):
        yt, ytt = VOL_TICKS, VOL_TICK_TEXT
    elif k == 4:
        yt = list(range(0, 6)); ytt = [str(v) for v in yt]
    else:
        yt = list(range(0, 7)); ytt = [str(v) for v in yt]
    layout['xaxis' + s] = dict(domain=[45 / W, 1], range=list(XR[k]), anchor='y' + s,
                               showline=True, mirror=True, linecolor=FRAME_C, linewidth=1,
                               showgrid=False, zeroline=False, ticks='outside', ticklen=4,
                               tickcolor=TICK_C, tickwidth=1, tickvals=xt,
                               ticktext=[str(v) for v in xt], tickfont=small)
    layout['yaxis' + s] = dict(domain=[1 - bot / H, 1 - top / H], range=list(YR[k]), anchor='x' + s,
                               showline=True, mirror=False, linecolor=FRAME_C, linewidth=1,
                               showgrid=False, zeroline=False, ticks='outside', ticklen=4,
                               tickcolor=TICK_C, tickwidth=1, tickvals=yt, ticktext=ytt,
                               tickangle=-90, tickfont=small)
    pos, sh = (VL_A, VL_A_SH) if k < 3 else (VL_B, VL_B_SH)
    for p, c in zip(pos, sh):
        wdt = 2 if (k >= 3 and p == 1750) else 1
        shapes.append(dict(type='line', xref='x' + s, yref='y' + s + ' domain', x0=p, x1=p, y0=0, y1=1,
                           line=dict(color=SHADE[c], width=wdt), layer='above'))
    annots.append(dict(text=TITLES[k], x=467 / W, y=1 - TITLE_Y[k] / H, xref='paper', yref='paper',
                       showarrow=False, xanchor='center', yanchor='middle',
                       font=dict(family=FONT, size=9.5, color='black')))
    annots.append(dict(text='ts[1, ]', x=467 / W, y=1 - (bot + 31) / H, xref='paper', yref='paper',
                       showarrow=False, xanchor='center', yanchor='middle', font=small))
    annots.append(dict(text='border', x=16 / W, y=1 - ((top + bot) / 2) / H, xref='paper', yref='paper',
                       showarrow=False, xanchor='center', yanchor='middle', textangle=-90, font=small))
    if k in (1, 2, 4, 5):
        bt = top + 23.5
        shapes.append(dict(type='rect', xref='paper', yref='paper', x0=45 / W, x1=148 / W,
                           y0=1 - (bt + 89) / H, y1=1 - bt / H, fillcolor='white',
                           line=dict(color='#707070', width=1), layer='above'))
        for j, (nm, col) in enumerate(zip(LEG_NAMES, LEG_COLORS)):
            yy = bt + 13 + 12.67 * j
            shapes.append(dict(type='line', xref='paper', yref='paper', x0=54 / W, x1=75 / W,
                               y0=1 - yy / H, y1=1 - yy / H, line=dict(color=col, width=2, dash='8px,4px'),
                               layer='above'))
            annots.append(dict(text=nm, x=83.5 / W, y=1 - yy / H, xref='paper', yref='paper',
                               showarrow=False, xanchor='left', yanchor='middle',
                               font=dict(family=FONT, size=10, color='black')))
layout['shapes'] = shapes
layout['annotations'] = annots
fig.update_layout(**layout)

fig.write_html("out.html", config={'displayModeBar': False},
               post_script="document.body.style.margin='0px';document.body.style.overflow='hidden';")
